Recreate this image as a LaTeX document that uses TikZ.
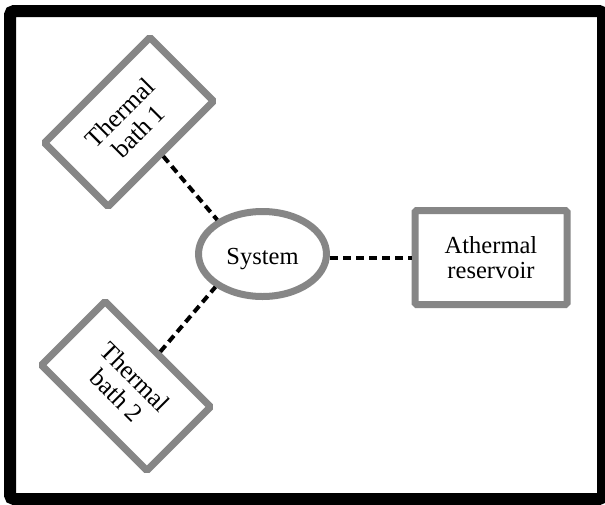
\documentclass[tikz,border=0pt]{standalone}
\usepackage{fontspec}
\setmainfont{Liberation Serif}
\usetikzlibrary{shapes.geometric}
\tikzset{
  graybox/.style={draw=gray!95, line width=7pt, fill=white, rectangle, rounded corners=1.5pt, align=center, inner sep=0pt},
  link/.style={draw=black, line width=4pt, dash pattern=on 8pt off 5pt},
}
\begin{document}
\begin{tikzpicture}[x=1pt,y=-1pt]
\useasboundingbox (0,0) rectangle (605,504);
\fill[white] (0,0) rectangle (605,504);
\draw[black, line width=12pt, rounded corners=4pt] (10,11) rectangle (603,499);
\node[graybox, minimum width=149pt, minimum height=90pt, rotate=45, font=\fontsize{25.5}{26.5}\selectfont] (bath1) at (129,122) {Thermal\\bath 1};
\node[graybox, minimum width=149pt, minimum height=90pt, rotate=-45, font=\fontsize{25.5}{26.5}\selectfont] (bath2) at (126,386) {Thermal\\bath 2};
\node[draw=gray!95, line width=7pt, ellipse, minimum width=128pt, minimum height=85pt, inner sep=0pt, text height=21pt, text depth=0pt, font=\fontsize{24.5}{25.5}\selectfont] (sys) at (262.5,254) {System};
\node[graybox, minimum width=152pt, minimum height=94pt, font=\fontsize{24.5}{25.5}\selectfont] (res) at (491,257.5) {Athermal\\reservoir};
\draw[link] (bath1.south) -- (sys.143);
\draw[link] (bath2.north) -- (sys.215);
\draw[link] (sys.east |- res.west) -- (res.west);
\end{tikzpicture}
\end{document}
